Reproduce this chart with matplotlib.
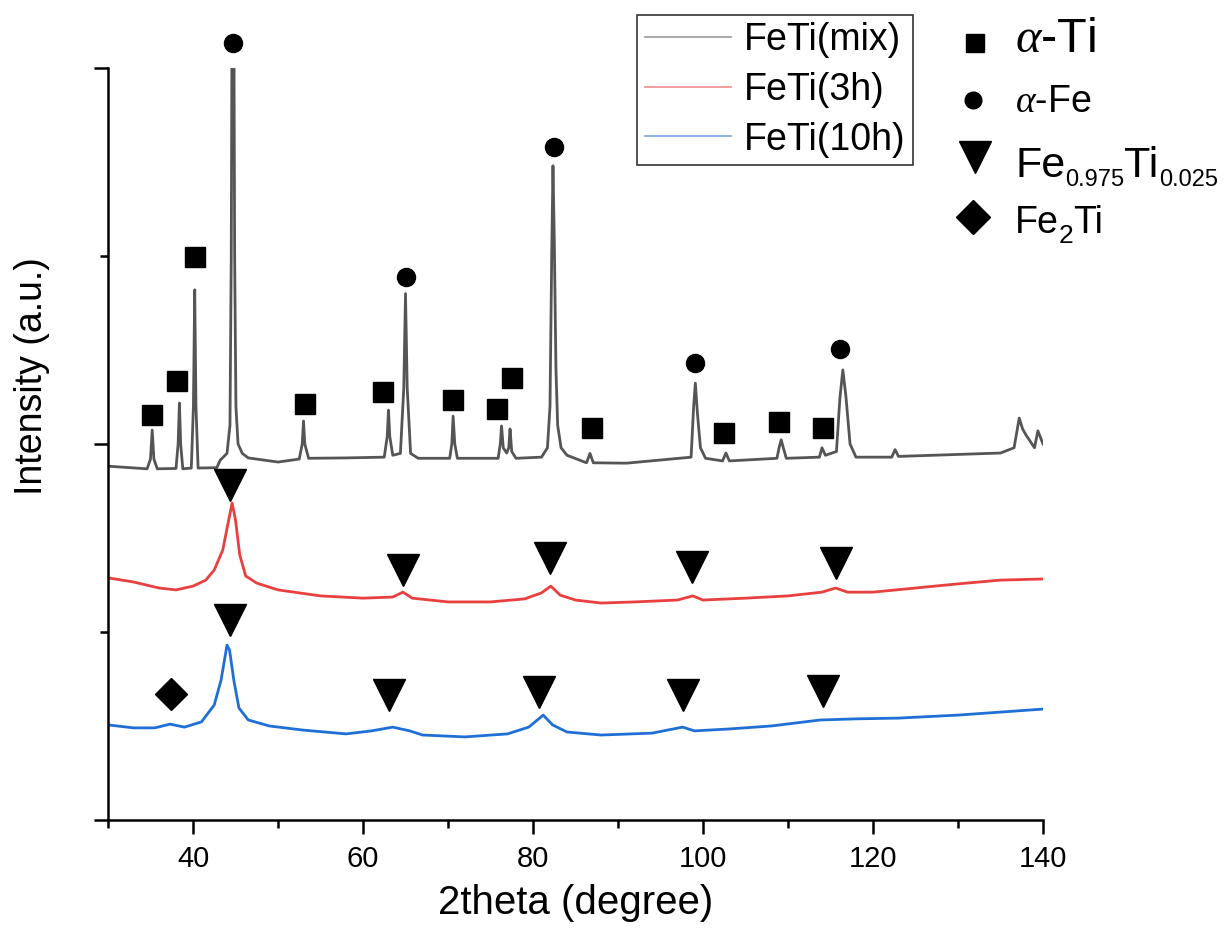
import matplotlib
matplotlib.use("Agg")
import matplotlib.pyplot as plt
from matplotlib.ticker import MultipleLocator

plt.rcParams['font.family'] = ['Liberation Sans', 'DejaVu Sans']
plt.rcParams['mathtext.fontset'] = 'custom'
plt.rcParams['mathtext.rm'] = 'Liberation Sans'
plt.rcParams['mathtext.it'] = 'Liberation Serif:italic'

# ---- data (2theta, offset intensity in axis units) ----
mix_x = [30.0, 34.6, 35.0, 35.2, 35.4, 35.8, 38.0, 38.25, 38.4, 38.55, 38.8,
         39.8, 40.05, 40.2, 40.35, 40.6, 42.8, 43.2, 44.0, 44.35, 44.5, 44.6,
         44.8, 44.9, 45.05, 45.3, 45.8, 46.5, 50.0, 52.5, 52.85, 53.0, 53.15,
         53.6, 58.0, 62.5, 62.85, 63.0, 63.15, 63.5, 64.4, 64.8, 65.0, 65.2,
         65.6, 66.5, 70.2, 70.45, 70.6, 70.8, 71.1, 75.9, 76.15, 76.3, 76.5,
         76.9, 77.15, 77.3, 77.5, 78.0, 81.0, 81.7, 82.0, 82.2, 82.35, 82.5,
         82.7, 82.9, 83.3, 84.0, 86.3, 86.7, 87.1, 91.0, 98.6, 98.9, 99.1,
         99.35, 99.7, 100.3, 102.3, 102.7, 103.1, 108.7, 108.95, 109.2, 109.45,
         109.8, 113.7, 114.0, 114.4, 115.7, 116.1, 116.45, 116.8, 117.3, 118.0,
         122.2, 122.6, 123.0, 135.0, 136.6, 137.2, 137.6, 138.0, 139.0, 139.4,
         140.0]
mix_y = [0.941, 0.934, 0.96, 1.037, 0.96, 0.934, 0.935, 1.0, 1.109, 1.0, 0.934,
         0.936, 1.10, 1.41, 1.10, 0.936, 0.937, 0.957, 0.975, 1.05, 1.5, 2.2,
         2.2, 1.5, 1.1, 1.0, 0.975, 0.963, 0.952, 0.960, 1.0, 1.061, 1.0,
         0.962, 0.963, 0.965, 1.02, 1.09, 1.02, 0.97, 0.975, 1.15, 1.40, 1.15,
         0.975, 0.962, 0.962, 1.0, 1.074, 1.0, 0.962, 0.962, 1.0, 1.048, 0.99,
         0.976, 0.99, 1.04, 0.98, 0.962, 0.965, 0.99, 1.1, 1.5, 1.74, 1.55,
         1.2, 1.05, 0.99, 0.97, 0.95, 0.975, 0.95, 0.949, 0.965, 1.10, 1.162,
         1.08, 0.99, 0.962, 0.955, 0.976, 0.955, 0.962, 0.99, 1.011, 0.99,
         0.962, 0.965, 0.99, 0.97, 0.98, 1.12, 1.197, 1.13, 1.0, 0.965,
         0.965, 0.985, 0.967, 0.976, 0.99, 1.069, 1.04, 1.024, 0.99, 1.035,
         1.0]

h3_x = [30, 33, 36, 38, 40, 41.5, 42.5, 43.5, 44.2, 44.6, 45.0, 45.5, 46.2,
        47.5, 50, 55, 60, 63.5, 64.7, 65.8, 70, 75, 79, 81.0, 82.1, 83.2, 85,
        88, 92, 97, 98.8, 100, 105, 110, 114, 115.6, 117, 120, 125, 130, 135,
        140]
h3_y = [0.644, 0.633, 0.617, 0.612, 0.622, 0.638, 0.665, 0.718, 0.798, 0.843,
        0.798, 0.705, 0.649, 0.630, 0.612, 0.596, 0.590, 0.593, 0.606, 0.590,
        0.580, 0.580, 0.588, 0.604, 0.622, 0.598, 0.585, 0.577, 0.580, 0.585,
        0.596, 0.585, 0.590, 0.596, 0.606, 0.617, 0.606, 0.606, 0.617, 0.628,
        0.638, 0.641]

h10_x = [30, 33, 35.5, 37.3, 39, 41, 42.5, 43.3, 44.0, 44.3, 44.8, 45.4, 46.5,
         49, 53, 58, 61, 63.5, 65.5, 67, 72, 77, 79.5, 81.2, 82.3, 84, 88, 94,
         97.6, 99, 103, 108, 113.8, 118, 123, 130, 135, 140]
h10_y = [0.253, 0.245, 0.245, 0.255, 0.247, 0.261, 0.306, 0.372, 0.465, 0.452,
         0.372, 0.298, 0.266, 0.250, 0.239, 0.229, 0.237, 0.247, 0.237, 0.226,
         0.221, 0.229, 0.247, 0.279, 0.253, 0.234, 0.226, 0.231, 0.247, 0.237,
         0.242, 0.250, 0.266, 0.269, 0.271, 0.279, 0.287, 0.295]

# phase markers
ti_x = [35.18, 38.12, 40.24, 53.18, 62.35, 70.59, 75.76, 77.53, 86.94, 102.47, 108.94, 114.12]
ti_y = [1.077, 1.168, 1.497, 1.106, 1.138, 1.117, 1.093, 1.176, 1.043, 1.029, 1.059, 1.043]
fe_x = [44.7, 65.06, 82.5, 99.06, 116.1]
fe_y = [2.066, 1.444, 1.79, 1.215, 1.253]
feti_x = [44.35, 64.7, 82.0, 98.7, 115.6, 44.35, 63.06, 80.7, 97.6, 114.1]
feti_y = [0.891, 0.665, 0.697, 0.673, 0.683, 0.532, 0.332, 0.34, 0.332, 0.343]
fe2ti_x = [37.4]
fe2ti_y = [0.335]

labels = ['FeTi(mix)', 'FeTi(3h)', 'FeTi(10h)']
colors = ['#555555', '#e8403f', '#1f6fd6']

W, H = 1224, 935
fig = plt.figure(figsize=(W / 100, H / 100), dpi=100)
ax = fig.add_axes([108/W, 1-820/H, (1043-108)/W, (820-68)/H])

ax.plot(mix_x, mix_y, color=colors[0], lw=2.0, label=labels[0])
ax.plot(h3_x, h3_y, color=colors[1], lw=2.0, label=labels[1])
ax.plot(h10_x, h10_y, color=colors[2], lw=2.0, label=labels[2])

ax.plot(ti_x, ti_y, 's', color='k', ms=14, clip_on=False)
ax.plot(fe_x, fe_y, 'o', color='k', ms=13, clip_on=False)
ax.plot(feti_x, feti_y, 'v', color='k', ms=23, clip_on=False)
ax.plot(fe2ti_x, fe2ti_y, 'D', color='k', ms=16, clip_on=False)

ax.set_xlim(30, 140)
ax.set_ylim(0, 2)
ax.spines['top'].set_visible(False)
ax.spines['right'].set_visible(False)
ax.spines['left'].set_linewidth(1.8)
ax.spines['bottom'].set_linewidth(1.8)
ax.xaxis.set_major_locator(MultipleLocator(20))
ax.xaxis.set_minor_locator(MultipleLocator(10))
ax.yaxis.set_major_locator(MultipleLocator(1))
ax.yaxis.set_minor_locator(MultipleLocator(0.5))
ax.tick_params(which='major', length=10, width=1.8, direction='out')
ax.tick_params(which='minor', length=6, width=1.8, direction='out')
ax.tick_params(axis='y', labelleft=False)
ax.tick_params(axis='x', labelsize=21, pad=8)

ax.set_xlabel('2theta (degree)', fontsize=29, labelpad=8)
ax.set_ylabel('Intensity (a.u.)', fontsize=27)
ax.yaxis.set_label_coords(-0.062, 0.59)

leg = ax.legend(loc='upper left', bbox_to_anchor=(637/W, 1-15/H),
                bbox_transform=fig.transFigure, borderaxespad=0,
                fontsize=27, handlelength=2.3, handletextpad=0.35,
                labelspacing=0.36, borderpad=0.2, fancybox=False,
                edgecolor='#333333', framealpha=1)
leg.get_frame().set_linewidth(1.2)
for ln in leg.get_lines():
    ln.set_linewidth(1.2)
    ln.set_alpha(0.6)

# phase key: markers
key_mk = ['s', 'o', 'v', 'D']
key_ms = [13, 12, 23, 17]
key_px = [975, 973, 975, 973]
key_py = [43, 100, 157, 217]
for mk, ms, kx, ky in zip(key_mk, key_ms, key_px, key_py):
    ax.plot([kx / W], [1 - ky / H], mk, color='k', ms=ms,
            transform=fig.transFigure, clip_on=False)

# phase key: labels, built piece by piece so subscripts can be small
renderer = fig.canvas.get_renderer()
key_rows = [
    [(r'$\alpha$-Ti', 35, 52)],
    [(r'$\alpha$-Fe', 27, 112)],
    [('Fe', 31, 177), ('0.975', 17, 186), ('Ti', 31, 177), ('0.025', 17, 186)],
    [('Fe', 27, 233), ('2', 19, 243), ('Ti', 27, 233)],
]
for row in key_rows:
    x = 1015 / W
    for s, fs, base in row:
        t = fig.text(x, 1 - base / H, s, fontsize=fs, ha='left', va='baseline')
        x = t.get_window_extent(renderer).x1 / W

fig.savefig('out.png', dpi=100)
